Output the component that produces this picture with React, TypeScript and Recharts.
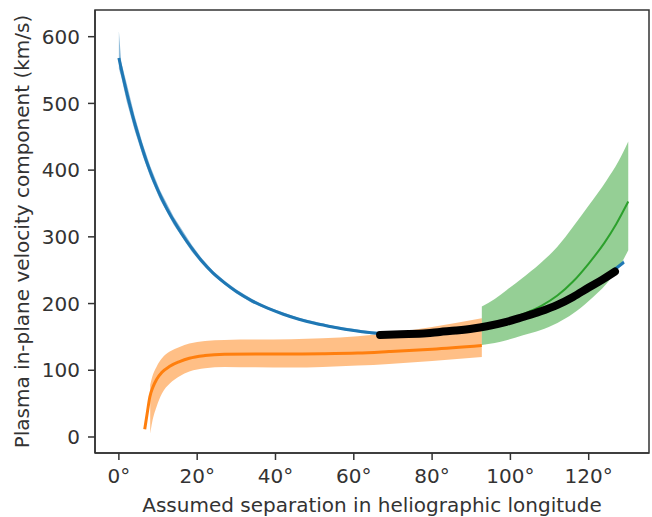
import React from 'react';
import { ComposedChart, Line, Area, XAxis, YAxis, ReferenceArea } from 'recharts';

// [deg, value]
const blueLine: [number, number][] = [
  [0, 568], [1, 541], [2, 516], [3, 493], [4, 471], [5, 451], [6, 432], [7, 414], [8, 398],
  [9, 383], [10.5, 363], [12, 345], [14, 324], [16, 305], [18.6, 283], [21, 265], [24, 246],
  [27, 231], [30, 218], [34, 204], [38, 193], [42, 184], [46, 176.5], [50, 170.5], [55, 164.5],
  [60, 159.5], [64, 156.5], [67, 155], [72, 154.5], [80, 156], [90, 161], [100, 172], [110, 192],
  [120, 222], [126, 248], [129, 262],
];
// [deg, low, high]
const blueBand: [number, number, number][] = [
  [0, 552, 608], [0.6, 540, 562], [2, 503, 530], [4, 460, 482], [6, 423, 441], [8, 390, 406],
  [10.5, 356, 370], [14, 318, 330], [18.6, 278, 288], [21, 261, 269], [24, 243, 249],
  [27, 228, 234], [30, 215, 221], [34, 201, 207], [38, 191, 195], [46, 174.5, 178.5],
  [55, 162.5, 166.5], [64, 154.5, 158.5], [67, 153, 157], [80, 154, 158], [90, 159, 163],
  [100, 170, 174], [110, 190, 194], [120, 220, 224], [129, 259, 265],
];
const orangeLine: [number, number][] = [
  [6.6, 11.5], [7.3, 38], [7.9, 60], [8.7, 75], [9.6, 86], [11, 97], [13, 106], [15.5, 113],
  [18, 118], [22, 122], [27, 124], [35, 124.5], [44, 124.5], [52, 124.8], [61, 125.8],
  [69, 128], [80, 131.5], [92.7, 137],
];
const orangeBand: [number, number, number][] = [
  [8.0, 5, 78], [8.5, 22, 90], [9.6, 45, 105], [11, 65, 118], [13, 80, 128], [15.5, 91, 135],
  [18, 98, 140], [22, 103, 144], [27, 105, 145.5], [35, 104.5, 146], [44, 104, 146.5],
  [52, 105, 148], [61, 107, 151], [69, 109.5, 156], [80, 114, 165], [92.7, 120, 178],
];
const greenLine: [number, number][] = [
  [92.7, 164], [96, 170], [100, 177.5], [104, 186], [108, 197], [112, 212], [116, 233],
  [120, 260], [124, 291], [127, 319], [130.1, 353],
];
const greenBand: [number, number, number][] = [
  [92.7, 138, 195.5], [96, 141, 207], [99, 145, 220], [103, 152, 238], [107.6, 160, 260],
  [112, 171, 285], [116, 185, 315], [120, 204, 347], [124.6, 230, 385], [127.5, 252, 412],
  [130.1, 280, 443],
];
const blackLine: [number, number][] = [
  [66.7, 153], [72, 154], [78.6, 155.5], [82, 157.5], [86, 159.5], [90.5, 162.5], [94, 166],
  [99, 172.5], [103, 179.5], [107.6, 188], [112, 198], [116, 210], [120, 224], [123.5, 236],
  [126.7, 248],
];

const xTicks = [0, 20, 40, 60, 80, 100, 120];
const yTicks = [0, 100, 200, 300, 400, 500, 600];
const xDomain: [number, number] = [-6.1, 135.4];
const yDomain: [number, number] = [-24, 640];

const toLine = (a: [number, number][]) => a.map(([x, y]) => ({ x, y }));
const toBand = (a: [number, number, number][]) => a.map(([x, lo, hi]) => ({ x, band: [lo, hi] }));

const font = 'DejaVu Sans';
const tickStyle = { fill: '#333', fontSize: 20, fontFamily: font };

export default function App() {
  return (
    <div style={{ position: 'absolute', left: 0, top: 0, width: 652, height: 517, background: '#fff' }}>
      <ComposedChart width={652} height={517} margin={{ top: 10, right: 3, left: 0, bottom: 0 }}>
        <XAxis
          dataKey="x"
          type="number"
          domain={xDomain}
          ticks={xTicks}
          allowDataOverflow
          tickFormatter={(v: number) => `${v}°`}
          height={64}
          tickSize={7}
          tickMargin={9}
          stroke="#333"
          strokeWidth={1.5}
          tick={tickStyle}
          label={{ value: 'Assumed separation in heliographic longitude', position: 'insideBottom', offset: 5, style: { fill: '#333', fontSize: 20, fontFamily: font } }}
        />
        <YAxis
          type="number"
          domain={yDomain}
          ticks={yTicks}
          allowDataOverflow
          width={95}
          tickSize={7}
          tickMargin={8}
          stroke="#333"
          strokeWidth={1.5}
          tick={tickStyle}
          label={{ value: 'Plasma in-plane velocity component (km/s)', angle: -90, position: 'insideLeft', offset: 22, style: { textAnchor: 'middle', fill: '#333', fontSize: 20, fontFamily: font } }}
        />
        <Area data={toBand(blueBand)} dataKey="band" type="linear" fill="#1f77b4" fillOpacity={0.5} stroke="none" isAnimationActive={false} />
        <Line data={toLine(blueLine)} dataKey="y" type="monotone" stroke="#1f77b4" strokeWidth={3} dot={false} isAnimationActive={false} />
        <Area data={toBand(orangeBand)} dataKey="band" type="monotone" fill="#ff7f0e" fillOpacity={0.5} stroke="none" isAnimationActive={false} />
        <Line data={toLine(orangeLine)} dataKey="y" type="monotone" stroke="#ff7f0e" strokeWidth={3} dot={false} isAnimationActive={false} />
        <Area data={toBand(greenBand)} dataKey="band" type="monotone" fill="#2ca02c" fillOpacity={0.5} stroke="none" isAnimationActive={false} />
        <Line data={toLine(greenLine)} dataKey="y" type="monotone" stroke="#2ca02c" strokeWidth={2} dot={false} isAnimationActive={false} />
        <Line data={toLine(blackLine)} dataKey="y" type="monotone" stroke="#000" strokeWidth={8} strokeLinecap="round" dot={false} isAnimationActive={false} />
        <ReferenceArea x1={xDomain[0]} x2={xDomain[1]} y1={yDomain[0]} y2={yDomain[1]} fill="none" stroke="#333" strokeWidth={1.5} ifOverflow="visible" />
      </ComposedChart>
    </div>
  );
}
